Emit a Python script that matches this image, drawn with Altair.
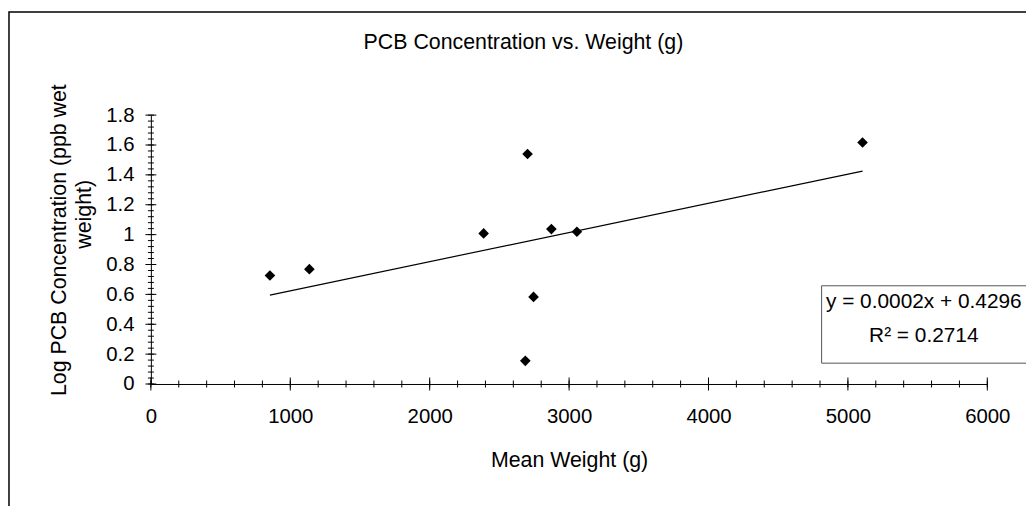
import altair as alt
import pandas as pd

# ---- data ----
WEIGHT = [854, 1137, 2387, 2702, 2686, 2745, 2873, 3056, 5105]
LOG_PCB = [0.726, 0.769, 1.008, 1.540, 0.155, 0.583, 1.037, 1.019, 1.617]

X_MAJOR = [0, 1000, 2000, 3000, 4000, 5000, 6000]
X_MINOR = list(range(0, 6001, 200))
Y_MAJOR = [0, 0.2, 0.4, 0.6, 0.8, 1, 1.2, 1.4, 1.6, 1.8]
Y_MINOR = [round(i * 0.04, 2) for i in range(46)]

TITLE = "PCB Concentration vs. Weight (g)"
X_TITLE = "Mean Weight (g)"
Y_TITLE = ["Log PCB Concentration (ppb wet", "weight)"]
EQUATION = ["y = 0.0002x + 0.4296", "R\u00b2 = 0.2714"]

# ---- layout ----
W, H = 843, 271
FONT = "Liberation Sans"
TICK_FS = 20.5
TITLE_FS = 21.5

x_scale = alt.Scale(domain=[0, 6000], nice=False, zero=False)
y_scale = alt.Scale(domain=[0, 1.8], nice=False)

df = pd.DataFrame({"weight": WEIGHT, "logpcb": LOG_PCB})

x_axis = alt.Axis(
    values=X_MAJOR, format="d", title=X_TITLE, ticks=False, grid=False,
    domain=True, domainColor="black", domainWidth=1,
    labels=True, labelFont=FONT, labelFontSize=TICK_FS, labelColor="black",
    labelBaseline="alphabetic", labelPadding=39, labelFlush=False,
    titleFont=FONT, titleFontSize=TITLE_FS, titleFontWeight="normal",
    titleColor="black", titleBaseline="alphabetic", titlePadding=40,
    zindex=1,
)
y_axis = alt.Axis(
    values=Y_MAJOR, format="~g", title="", ticks=False, grid=False,
    domain=True, domainColor="black", domainWidth=1,
    labels=True, labelFont=FONT, labelFontSize=TICK_FS, labelColor="black",
    labelPadding=17, labelFlush=False, labelOverlap=False,
    zindex=1,
)


def xq(field):
    return alt.X(field, type="quantitative", scale=x_scale, axis=x_axis)


def yq(field):
    return alt.Y(field, type="quantitative", scale=y_scale, axis=y_axis)


one = pd.DataFrame({"k": [0]})

frame = alt.Chart(one).mark_rect(fillOpacity=0, stroke="black", strokeWidth=1.5).encode(
    x=alt.value(-143), x2=alt.value(890), y=alt.value(-104), y2=alt.value(412)
)

eq_box = alt.Chart(one).mark_rect(fill="white", stroke="#555555", strokeWidth=1).encode(
    x=alt.value(676), x2=alt.value(890), y=alt.value(172), y2=alt.value(250)
)

trend = alt.Chart(df).transform_regression("weight", "logpcb", method="linear").mark_line(
    color="black", strokeWidth=1.2
).encode(x=xq("weight"), y=yq("logpcb"))

points = alt.Chart(df).mark_point(
    shape="diamond", filled=True, size=115, color="black", opacity=1
).encode(x=xq("weight"), y=yq("logpcb"))

x_minor = alt.Chart(pd.DataFrame({"v": X_MINOR})).mark_tick(
    orient="vertical", size=7, thickness=1, color="black", opacity=1
).encode(x=xq("v"), y=alt.value(H))

x_major = alt.Chart(pd.DataFrame({"v": X_MAJOR})).mark_tick(
    orient="vertical", size=13, thickness=1, color="black", opacity=1
).encode(x=xq("v"), y=alt.value(H))

y_minor = alt.Chart(pd.DataFrame({"v": Y_MINOR})).mark_tick(
    orient="horizontal", size=6, thickness=1, color="black", opacity=1
).encode(y=yq("v"), x=alt.value(0))

y_major = alt.Chart(pd.DataFrame({"v": Y_MAJOR})).mark_tick(
    orient="horizontal", size=11, thickness=1, color="black", opacity=1
).encode(y=yq("v"), x=alt.value(0))


def label(text, x, y, size=TITLE_FS, angle=0):
    kw = dict(font=FONT, fontSize=size, align="center", baseline="alphabetic", color="black")
    if angle:
        kw["angle"] = angle
    return alt.Chart(pd.DataFrame({"t": [text]})).mark_text(**kw).encode(
        text="t:N", x=alt.value(x), y=alt.value(y)
    )


title = label(TITLE, 375.5, -66.5)
ytitle1 = label(Y_TITLE[0], -85.5, 126, angle=270)
ytitle2 = label(Y_TITLE[1], -60.5, 100, angle=270)
eq1 = label(EQUATION[0], 779, 194, size=21)
eq2 = label(EQUATION[1], 779, 229, size=21)

chart = alt.layer(
    frame, eq_box, trend, points, x_minor, x_major, y_minor, y_major,
    title, ytitle1, ytitle2, eq1, eq2,
).properties(
    width=W, height=H,
    autosize=alt.AutoSizeParams(type="none"),
    padding={"left": 144, "top": 106, "right": 39, "bottom": 121},
    background="white",
).configure_view(stroke="transparent")

chart.save("out.html", embed_options={"renderer": "svg", "actions": False})
